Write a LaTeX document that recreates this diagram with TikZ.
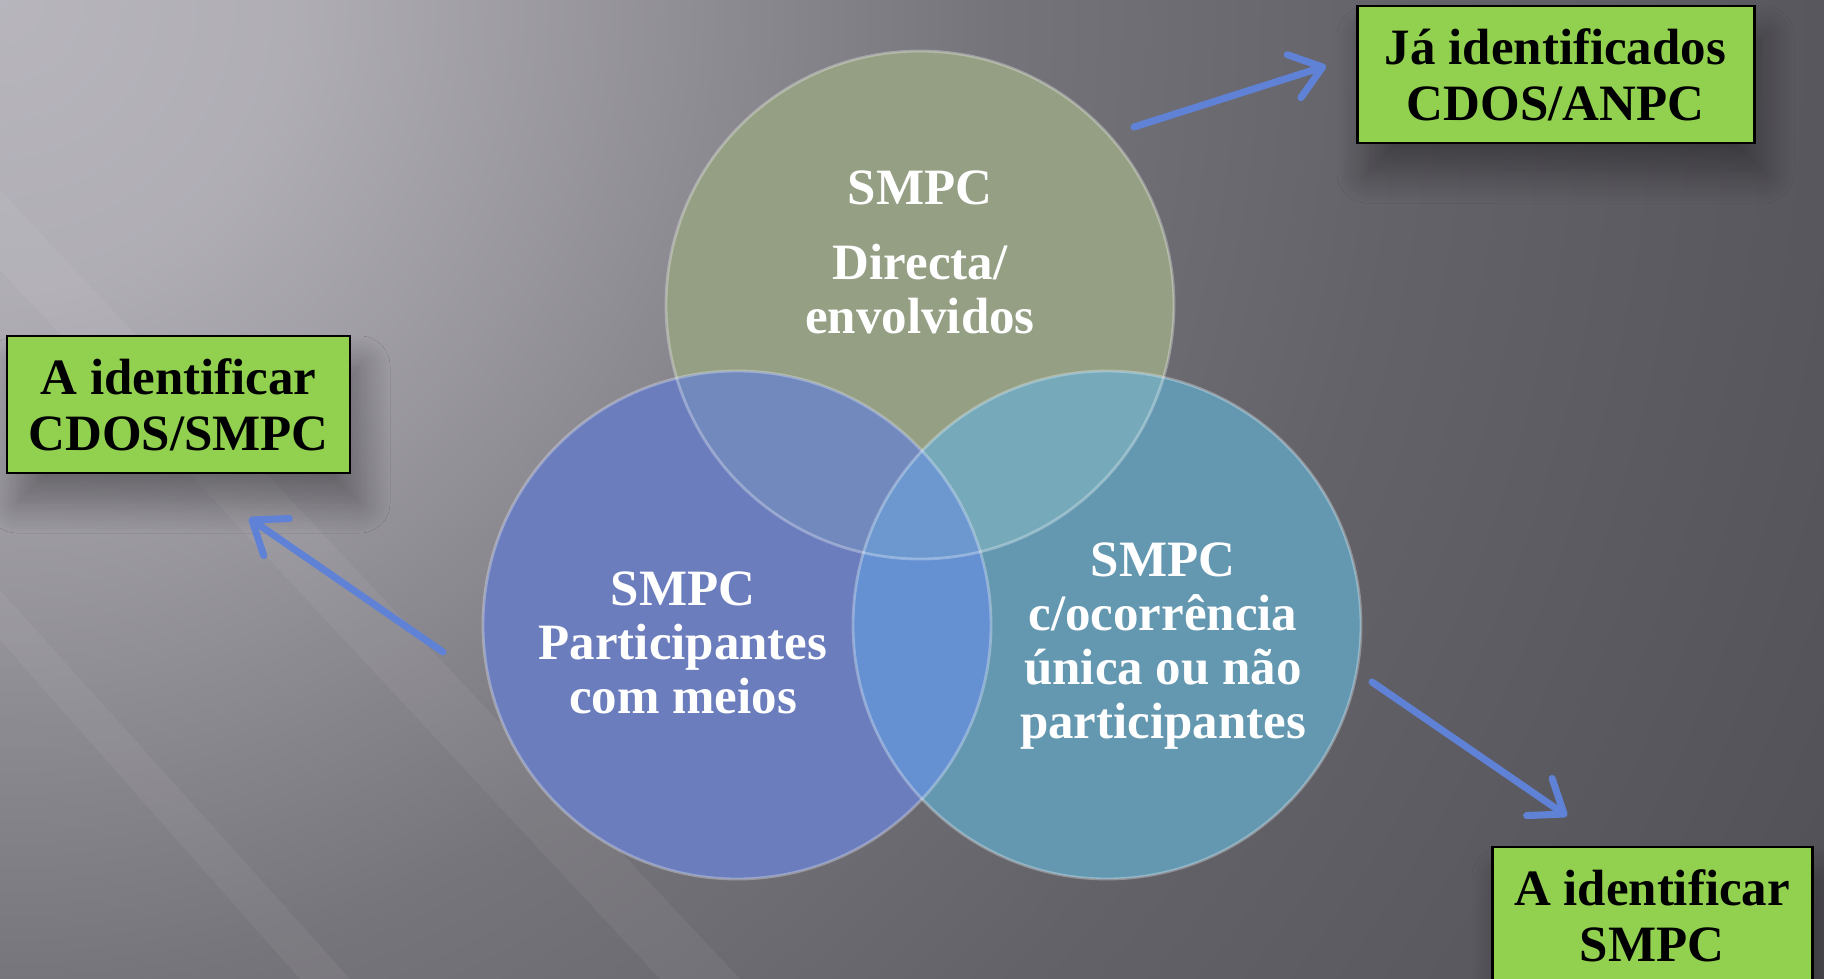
\documentclass[tikz,border=0pt]{standalone}
\usepackage{fontspec}
\setmainfont{Liberation Serif}
\usetikzlibrary{positioning, arrows.meta, shadows.blur}

\definecolor{vgreen}{RGB}{148,159,132}
\definecolor{vblue}{RGB}{107,125,188}
\definecolor{vteal}{RGB}{100,152,177}
\definecolor{vgb}{RGB}{113,137,189}
\definecolor{vgt}{RGB}{118,170,186}
\definecolor{vbt}{RGB}{101,144,210}
\definecolor{vall}{RGB}{108,152,207}
\definecolor{tagfill}{RGB}{146,208,80}
\definecolor{pointerblue}{RGB}{96,130,214}
\pgfdeclareradialshading{backdrop}{\pgfpoint{0bp}{0bp}}{%
  rgb(0bp)=(0.72,0.71,0.74);
  rgb(3.5bp)=(0.69,0.68,0.71);
  rgb(7bp)=(0.60,0.59,0.62);
  rgb(12bp)=(0.46,0.455,0.48);
  rgb(17bp)=(0.39,0.385,0.41);
  rgb(25bp)=(0.32,0.315,0.34);
  rgb(50bp)=(0.32,0.315,0.34)}

\begin{document}
\begin{tikzpicture}[
  venn/.style={circle, minimum size=5.08cm, inner sep=0pt},
  rim/.style={draw=white, draw opacity=0.3, line width=0.8pt},
  vtext/.style={anchor=north, inner sep=0pt, align=center, text=white,
    font=\fontsize{14.5}{15.4}\selectfont\bfseries},
  tag/.style={draw=black, line width=0.85pt, fill=tagfill, align=center,
    minimum height=1.37cm, font=\fontsize{14.5}{16}\selectfont\bfseries,
    blur shadow={shadow xshift=0.1cm, shadow yshift=-0.3cm,
      shadow blur radius=0.3cm, shadow blur steps=16, shadow opacity=35}},
  pointer/.style={draw=pointerblue, line width=2pt, line cap=round,
    -{Straight Barb[length=3mm, width=4.5mm, round]}}]

\useasboundingbox (0,0) rectangle (18.24,-9.79);
\begin{scope}
  \clip (0,0) rectangle (18.24,-9.79);
  \shade[shading=backdrop] (0,0) circle (20.7);
\end{scope}
\fill[white, opacity=0.05] (0,-1.9) -- (0,-2.7) -- (6.6,-9.79) -- (7.4,-9.79) -- cycle;
\fill[white, opacity=0.05] (0,-5.9) -- (0,-6.4) -- (3.0,-9.79) -- (3.5,-9.79) -- cycle;

% the three sets
\node[venn, fill=vgreen] (dir) at (9.20,-3.05) {};
\node[venn, fill=vblue] (part) at (7.37,-6.25) {};
\node[venn, fill=vteal] (solo) at (11.07,-6.25) {};
\begin{scope}
  \clip (dir.center) circle (2.54);
  \fill[vgb] (part.center) circle (2.54);
  \fill[vgt] (solo.center) circle (2.54);
\end{scope}
\begin{scope}
  \clip (part.center) circle (2.54);
  \fill[vbt] (solo.center) circle (2.54);
  \clip (dir.center) circle (2.54);
  \fill[vall] (solo.center) circle (2.54);
\end{scope}
\foreach \c in {dir, part, solo}
  \draw[rim] (\c.center) circle (2.54);

\node[vtext] (dirtxt) at (9.20,-1.70) {SMPC\\[6pt] Directa/\\ envolvidos};
\node[vtext] (parttxt) at (6.83,-5.71) {SMPC\\ Participantes\\ com meios};
\node[vtext] (solotxt) at (11.63,-5.42) {SMPC\\ c/ocorrência\\ única ou não\\ participantes};

% the boxes
\node[tag, minimum width=3.97cm] (known) at (15.555,-0.745) {Já identificados\\ CDOS/ANPC};
\node[tag, minimum width=3.43cm] (pending) at (1.785,-4.045) {A identificar\\ CDOS/SMPC};
\node[tag, minimum width=3.20cm] (local) at (16.52,-9.155) {A identificar\\ SMPC};

\coordinate (knownfrom) at (11.34,-1.27);
\coordinate (knownto) at (13.26,-0.66);
\coordinate (pendingfrom) at (4.43,-6.52);
\coordinate (pendingto) at (2.49,-5.18);
\coordinate (localfrom) at (13.72,-6.82);
\coordinate (localto) at (15.67,-8.16);
\draw[pointer] (knownfrom) -- (knownto);
\draw[pointer] (pendingfrom) -- (pendingto);
\draw[pointer] (localfrom) -- (localto);
\end{tikzpicture}
\end{document}
